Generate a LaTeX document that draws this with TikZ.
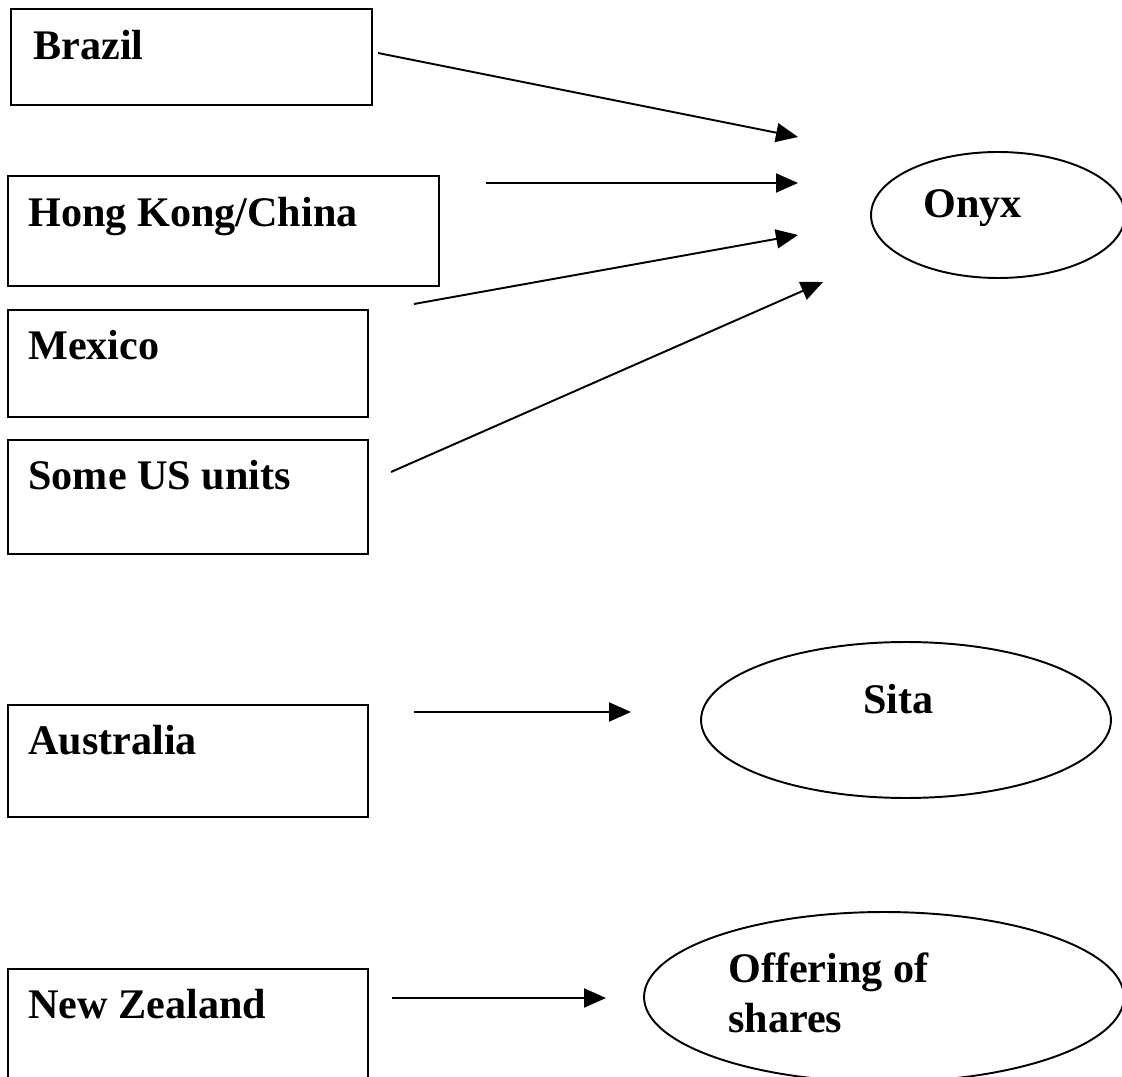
\documentclass[tikz,border=0pt]{standalone}
\usepackage{fontspec}
\setmainfont{Liberation Serif}
\usetikzlibrary{arrows.meta,shapes.geometric}
\tikzset{
  unitbox/.style={draw, line width=1.1pt, anchor=north west, inner sep=0pt},
  blob/.style={draw, ellipse, line width=1.1pt, inner sep=0pt},
  tag/.style={anchor=base west, inner sep=0pt, font=\fontsize{24}{28}\selectfont\bfseries},
  flow/.style={line width=1.1pt, -{Triangle[length=0.44cm,width=0.38cm]}}
}
\begin{document}
\begin{tikzpicture}[x=0.02cm, y=-0.02cm]
\useasboundingbox (0,0) rectangle (1122,1077);
\clip (0,0) rectangle (1122,1077);
% boxes on the left
\node[unitbox, minimum width=7.22cm, minimum height=1.92cm] (brazil) at (10,8) {};
\node[tag] (brazil-t) at (33,60) {Brazil};
\node[unitbox, minimum width=8.62cm, minimum height=2.2cm] (hk) at (7,175) {};
\node[tag] (hk-t) at (28,227) {Hong Kong/China};
\node[unitbox, minimum width=7.2cm, minimum height=2.14cm] (mexico) at (7,309) {};
\node[tag] (mexico-t) at (28,360) {Mexico};
\node[unitbox, minimum width=7.2cm, minimum height=2.28cm] (us) at (7,439) {};
\node[tag] (us-t) at (28,490) {Some US units};
\node[unitbox, minimum width=7.2cm, minimum height=2.24cm] (australia) at (7,704) {};
\node[tag] (australia-t) at (28,754) {Australia};
\node[unitbox, minimum width=7.2cm, minimum height=2.6cm] (nz) at (7,968) {};
\node[tag] (nz-t) at (28,1018) {New Zealand};
% ellipses on the right
\node[blob, minimum width=5.08cm, minimum height=2.52cm] (onyx) at (998,215) {};
\node[tag] (onyx-t) at (923,218) {Onyx};
\node[blob, minimum width=8.2cm, minimum height=3.12cm] (sita) at (906,720) {};
\node[tag] (sita-t) at (863,713) {Sita};
\node[blob, minimum width=9.6cm, minimum height=3.4cm] (offer) at (884,997) {};
\node[tag] (offer-t1) at (728,982) {Offering of};
\node[tag] (offer-t2) at (728,1032) {shares};
% arrow ends
\coordinate (brazil-out) at (378,53);
\coordinate (brazil-in) at (798,137);
\coordinate (hk-out) at (486,183);
\coordinate (hk-in) at (798,183);
\coordinate (mexico-out) at (414,304);
\coordinate (mexico-in) at (798,235);
\coordinate (us-out) at (391,472);
\coordinate (us-in) at (823,282);
\coordinate (australia-out) at (414,712);
\coordinate (australia-in) at (631,712);
\coordinate (nz-out) at (392,998);
\coordinate (nz-in) at (606,998);
\draw[flow] (brazil-out) -- (brazil-in);
\draw[flow] (hk-out) -- (hk-in);
\draw[flow] (mexico-out) -- (mexico-in);
\draw[flow] (us-out) -- (us-in);
\draw[flow] (australia-out) -- (australia-in);
\draw[flow] (nz-out) -- (nz-in);
\end{tikzpicture}
\end{document}
